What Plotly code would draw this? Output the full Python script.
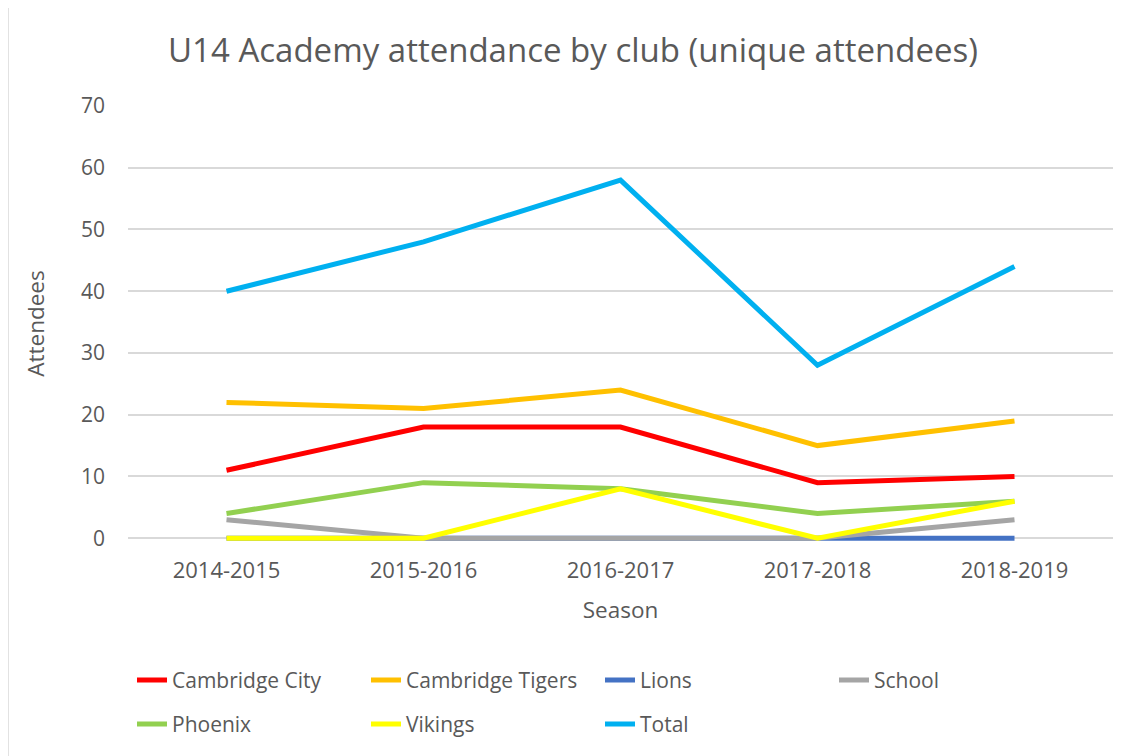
import plotly.graph_objects as go

seasons = ["2014-2015", "2015-2016", "2016-2017", "2017-2018", "2018-2019"]
cambridge_city = [11, 18, 18, 9, 10]
cambridge_tigers = [22, 21, 24, 15, 19]
lions = [0, 0, 0, 0, 0]
school = [3, 0, 0, 0, 3]
phoenix = [4, 9, 8, 4, 6]
vikings = [0, 0, 8, 0, 6]
total = [40, 48, 58, 28, 44]

series = [
    ("Cambridge City", cambridge_city, "#FF0000", "legend"),
    ("Cambridge Tigers", cambridge_tigers, "#FFC000", "legend"),
    ("Lions", lions, "#4472C4", "legend"),
    ("School", school, "#A5A5A5", "legend"),
    ("Phoenix", phoenix, "#92D050", "legend2"),
    ("Vikings", vikings, "#FFFF00", "legend2"),
    ("Total", total, "#00B0F0", "legend2"),
]

FONT = "Open Sans"
TXT = "#595959"

fig = go.Figure()
for name, vals, color, lg in series:
    fig.add_trace(go.Scatter(x=seasons, y=vals, mode="lines", name=name,
                             line=dict(color=color, width=5), legend=lg))

# page body has an 8px margin, so figure coords = screen coords - 8
OFF = 8
W, H = 1127, 748
Y_MIN, Y_MAX = -0.45, 70
unit = (539 - 106) / 70.0
plot_bottom = 539 + (-Y_MIN) * unit  # extend plot so lines at 0 are not clipped
L, T = 128 - OFF, 106 - OFF
R = W - (1113 - OFF)
B = H - (plot_bottom - OFF)
pw, ph = W - L - R, H - T - B

def px_x(p):
    return (p - OFF - L) / pw

def px_y(p):
    return (H - B - (p - OFF)) / ph

legend_common = dict(orientation="h", xanchor="left", yanchor="middle",
                     font=dict(family=FONT, size=21, color=TXT),
                     entrywidth=189, entrywidthmode="pixels",
                     bgcolor="rgba(0,0,0,0)", traceorder="normal")

fig.update_layout(
    width=W, height=H,
    margin=dict(l=L, r=R, t=T, b=B),
    paper_bgcolor="white", plot_bgcolor="white",
    font=dict(family=FONT, color=TXT),
    title=dict(text="U14 Academy attendance by club (unique attendees)",
               x=(573 - OFF) / W, xanchor="center", xref="container",
               y=1 - (50 - OFF) / H, yanchor="middle",
               font=dict(family=FONT, size=33, color=TXT)),
    xaxis=dict(range=[-0.5, 4.5], showgrid=False, zeroline=False, showline=False,
               ticks="", tickfont=dict(family=FONT, size=22, color=TXT), ticklabelstandoff=14,
               title=dict(text="Season", font=dict(family=FONT, size=22.5, color=TXT), standoff=19)),
    yaxis=dict(range=[Y_MIN, Y_MAX], tick0=0, dtick=10, showgrid=True, gridcolor="#D9D9D9", gridwidth=1.5,
               zeroline=False, showline=False, ticks="",
               tickfont=dict(family=FONT, size=21, color=TXT), ticklabelstandoff=22,
               title=dict(text="Attendees", font=dict(family=FONT, size=22.5, color=TXT), standoff=30)),
    legend=dict(x=px_x(132), y=px_y(680), **legend_common),
    legend2=dict(x=px_x(132), y=px_y(724), **legend_common),
    showlegend=True,
)

fig.add_shape(type="rect", xref="paper", yref="paper",
              x0=px_x(8), y0=px_y(780), x1=px_x(1160), y1=px_y(7),
              line=dict(color="#D9D9D9", width=1.5), fillcolor="rgba(0,0,0,0)", layer="below")

fig.write_html("out.html")
